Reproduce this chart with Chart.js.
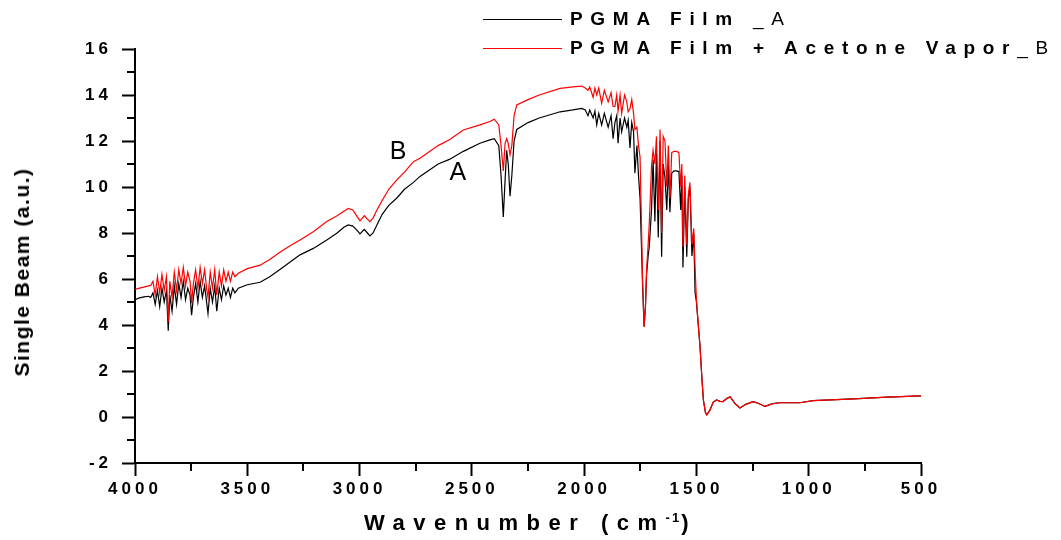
<!DOCTYPE html>
<html>
<head>
<meta charset="utf-8">
<script src="https://cdn.jsdelivr.net/npm/chart.js@4.4.0/dist/chart.umd.min.js"></script>
<style>
  html, body { margin: 0; padding: 0; background: #fff; }
  #wrap { position: relative; width: 1061px; height: 540px; overflow: hidden; }
  #chart { position: absolute; left: 0; top: 0; }
  .legend { position: absolute; left: 483px; font: bold 19px "Liberation Sans", Arial, sans-serif;
            letter-spacing: 7.7px; color: #000; white-space: nowrap; line-height: 20px; }
  .legend .sw { display: inline-block; width: 79px; height: 0; vertical-align: middle; margin-right: 8px; }
  .legend .thin { font-weight: normal; }
  #xtitle { position: absolute; left: 0; width: 1061px; top: 510px; text-align: center;
            font: bold 22px "Liberation Sans", Arial, sans-serif; letter-spacing: 8.5px; }
  #xtitle sup { font-size: 13px; letter-spacing: 2px; }
  #ytitle { position: absolute; left: 22px; top: 272px; transform: translate(-50%, -50%) rotate(-90deg);
            font: bold 21px "Liberation Sans", Arial, sans-serif; letter-spacing: 1.5px; white-space: nowrap; }
</style>
</head>
<body>
<div id="wrap">
  <canvas id="chart" width="1061" height="540"></canvas>
  <div class="legend" style="top:9px"><span class="sw" style="border-top:1px solid #000"></span>PGMA Film <span class="thin">_A</span></div>
  <div class="legend" style="top:38px"><span class="sw" style="border-top:1px solid #f00"></span>PGMA Film + Acetone Vapor<span class="thin">_B</span></div>
  <div id="ytitle">Single Beam (a.u.)</div>
  <div id="xtitle">Wavenumber (cm<sup>-1</sup>)</div>
</div>
<script>
  // wavenumber (cm-1), shared by both spectra
  const wavenumber = [
    4000, 3980, 3960, 3940, 3930,
    3920, 3910, 3900, 3890, 3880, 3870, 3860, 3852, 3845, 3835,
    3825, 3815, 3805, 3795, 3785, 3775, 3765, 3755, 3748, 3740,
    3730, 3720, 3710, 3700, 3690, 3680, 3675, 3665, 3655, 3645,
    3636, 3625, 3615, 3605, 3595, 3585, 3575, 3565, 3555,
    3540, 3500, 3443, 3400, 3350, 3300, 3265, 3206, 3146, 3100,
    3070, 3050, 3030, 3010, 2998, 2979, 2965, 2954, 2940, 2920,
    2900, 2870, 2835, 2800, 2760, 2731, 2650, 2600, 2538, 2464,
    2420, 2400,
    2380, 2370, 2360, 2352, 2345, 2338, 2330, 2322, 2312, 2300,
    2250, 2200, 2107, 2050, 2011,
    1995, 1983, 1975, 1960, 1952, 1944, 1935, 1922, 1910, 1893,
    1880, 1871, 1863, 1855, 1849, 1840, 1833, 1820, 1810, 1804,
    1796, 1788, 1780, 1774, 1765, 1758, 1751,
    1745, 1740, 1733, 1727, 1722, 1715, 1710, 1700, 1693, 1685,
    1678, 1670, 1662, 1655, 1648, 1640, 1632, 1625, 1618, 1610,
    1600, 1590, 1578, 1570, 1565, 1560, 1552, 1543, 1536, 1529,
    1520, 1512, 1506, 1500, 1490, 1484, 1475, 1469, 1460, 1454,
    1440, 1425, 1410, 1395, 1382, 1365, 1350, 1330, 1306, 1280,
    1248, 1225, 1195, 1160, 1128, 1039, 981, 800, 650, 500
  ];

  // PGMA Film _A (black)
  const filmA = [
    5.10, 5.18, 5.22, 5.25, 5.20,
    5.4, 4.9, 5.5, 4.8, 5.6, 5.0, 5.5, 3.75, 5.3, 4.6,
    5.7, 4.9, 5.8, 5.2, 5.9, 5.1, 5.6, 5.3, 4.43, 5.2,
    5.8, 5.0, 5.9, 5.2, 5.7, 4.9, 4.5, 5.6, 5.0, 5.7,
    4.6, 5.6, 5.1, 5.7, 5.3, 5.6, 5.2, 5.6, 5.4,
    5.6, 5.75, 5.86, 6.1, 6.45, 6.8, 7.05, 7.33, 7.7, 8.0,
    8.25, 8.35, 8.3, 8.1, 7.96, 8.16, 8.0, 7.87, 8.0, 8.4,
    8.8, 9.2, 9.51, 9.9, 10.2, 10.46, 11.0, 11.2, 11.55, 11.9,
    12.05, 12.1,
    11.8, 10.5, 8.7, 10.3, 11.6, 11.0, 9.6, 10.5, 12.0, 12.5,
    12.8, 13.0, 13.27, 13.35, 13.42,
    13.35, 13.1, 13.35, 13.0, 13.3, 12.7, 13.2, 12.7, 13.2, 12.6,
    13.1, 12.1, 12.8, 13.1, 11.9, 13.0, 12.4, 13.0, 12.6, 12.9,
    11.7, 12.8, 12.4, 10.6, 11.8, 10.5, 9.5,
    7.5, 5.8, 3.93, 4.8, 6.2, 7.0, 7.4, 9.0, 11.2, 8.5,
    11.5, 7.8, 12.0, 6.97, 11.0, 10.4, 9.0, 11.0, 8.9, 10.6,
    10.7, 10.7, 10.67, 9.0, 10.5, 6.5, 10.0, 6.97, 9.5, 10.0,
    7.0, 8.0, 5.4, 5.0, 3.8, 3.06, 1.6, 0.74, 0.2, 0.09,
    0.3, 0.65, 0.74, 0.68, 0.67, 0.8, 0.88, 0.6, 0.39, 0.55,
    0.67, 0.6, 0.46, 0.58, 0.62, 0.62, 0.71, 0.79, 0.86, 0.92
  ];

  // PGMA Film + Acetone Vapor _B (red)
  const filmB = [
    5.55, 5.60, 5.65, 5.70, 5.72,
    5.9, 5.3, 6.1, 5.4, 6.2, 5.5, 6.1, 4.14, 5.9, 5.2,
    6.3, 5.5, 6.4, 5.8, 6.5, 5.7, 6.3, 5.9, 4.96, 5.8,
    6.4, 5.6, 6.5, 5.8, 6.4, 5.5, 5.2, 6.3, 5.6, 6.4,
    5.3, 6.3, 5.7, 6.4, 5.9, 6.3, 5.9, 6.3, 6.1,
    6.25, 6.45, 6.6, 6.85, 7.2, 7.5, 7.7, 8.05, 8.5, 8.75,
    8.95, 9.07, 9.0, 8.7, 8.53, 8.75, 8.6, 8.49, 8.65, 9.05,
    9.4, 9.9, 10.3, 10.65, 11.1, 11.25, 11.8, 12.05, 12.48, 12.7,
    12.85, 12.95,
    12.7, 11.8, 10.7, 11.9, 12.1, 11.9, 11.4, 11.8, 13.1, 13.57,
    13.8, 14.0, 14.29, 14.35, 14.39,
    14.3, 14.2, 14.35, 13.9, 14.3, 14.0, 14.3, 13.64, 14.2, 13.7,
    14.1, 13.5, 13.5, 14.0, 13.3, 14.0, 13.2, 14.0, 13.7, 13.27,
    13.4, 13.8, 13.2, 12.5, 12.6, 11.8, 11.3,
    8.5, 6.0, 3.93, 4.8, 6.4, 7.5, 8.4, 10.9, 11.6, 11.0,
    12.2, 9.0, 12.5, 8.0, 12.2, 12.0, 10.0, 11.8, 9.5, 11.5,
    11.55, 11.55, 11.5, 10.0, 11.0, 7.4, 10.5, 7.5, 9.7, 10.2,
    7.5, 8.2, 6.5, 5.1, 3.8, 3.06, 1.6, 0.74, 0.2, 0.09,
    0.3, 0.65, 0.74, 0.68, 0.67, 0.8, 0.88, 0.6, 0.39, 0.55,
    0.67, 0.6, 0.46, 0.58, 0.62, 0.62, 0.71, 0.79, 0.86, 0.92
  ];

  // curve letters placed next to the spectra
  const curveLetters = ["A", "B"];
  const letterWavenumber = [2562, 2829];
  const letterValue = [10.6, 11.5];

  const FONT = '"Liberation Sans", Arial, sans-serif';

  const toPoints = (ys) => wavenumber.map((x, i) => ({ x, y: ys[i] }));

  const minorTicks = {
    id: "minorTicks",
    beforeDraw(chart) {
      chart.ctx.letterSpacing = "4px";
    },
    beforeDatasetsDraw(chart) {
      chart.ctx.letterSpacing = "0px";
    },
    afterDraw(chart) {
      const { ctx, chartArea, scales } = chart;
      ctx.save();
      ctx.strokeStyle = "#000";
      ctx.lineWidth = 2;
      ctx.beginPath();
      for (let v = -1; v < 16; v += 2) {
        const y = Math.round(scales.y.getPixelForValue(v));
        ctx.moveTo(chartArea.left - 8, y);
        ctx.lineTo(chartArea.left, y);
      }
      for (let v = 750; v < 4000; v += 500) {
        const x = Math.round(scales.x.getPixelForValue(v));
        ctx.moveTo(x, chartArea.bottom);
        ctx.lineTo(x, chartArea.bottom + 8);
      }
      ctx.stroke();

      ctx.fillStyle = "#000";
      ctx.font = "25px " + FONT;
      ctx.textAlign = "center";
      ctx.textBaseline = "middle";
      curveLetters.forEach((t, i) => {
        ctx.fillText(t, scales.x.getPixelForValue(letterWavenumber[i]), scales.y.getPixelForValue(letterValue[i]));
      });
      ctx.restore();
    },
  };

  new Chart(document.getElementById("chart"), {
    type: "line",
    data: {
      datasets: [
        {
          label: "PGMA Film _A",
          data: toPoints(filmA),
          borderColor: "#000",
          borderWidth: 1.2,
          order: 2,
        },
        {
          label: "PGMA Film + Acetone Vapor_B",
          data: toPoints(filmB),
          borderColor: "#ff0000",
          borderWidth: 1.2,
          order: 1,
        },
      ],
    },
    options: {
      responsive: false,
      animation: false,
      devicePixelRatio: 1,
      parsing: false,
      elements: { point: { radius: 0 }, line: { tension: 0 } },
      layout: { padding: { left: 0, top: 49, right: 140, bottom: 0 } },
      plugins: { legend: { display: false }, tooltip: { enabled: false } },
      scales: {
        x: {
          type: "linear",
          reverse: true,
          min: 500,
          max: 4000,
          afterFit: (s) => { s.height = 77; },
          grid: {
            drawOnChartArea: false,
            tickLength: 13,
            tickWidth: 2,
            tickColor: (c) => (c.tick && c.tick.value % 500 === 0 ? "#000" : "rgba(0,0,0,0)"),
          },
          border: { display: true, color: "#000", width: 2 },
          ticks: {
            stepSize: 250,
            autoSkip: false,
            maxRotation: 0,
            padding: 3,
            color: "#000",
            font: { family: FONT, size: 17, weight: "bold" },
            callback: (v) => (v % 500 === 0 ? String(v) : ""),
          },
        },
        y: {
          min: -2,
          max: 16,
          afterFit: (s) => { s.width = 135; },
          grid: {
            drawOnChartArea: false,
            tickLength: 13,
            tickWidth: 2,
            tickColor: (c) => (c.tick && c.tick.value % 2 === 0 ? "#000" : "rgba(0,0,0,0)"),
          },
          border: { display: true, color: "#000", width: 2 },
          ticks: {
            stepSize: 1,
            padding: 10,
            color: "#000",
            font: { family: FONT, size: 17, weight: "bold" },
            callback: (v) => (v % 2 === 0 ? String(v) : ""),
          },
        },
      },
    },
    plugins: [minorTicks],
  });
</script>
</body>
</html>
